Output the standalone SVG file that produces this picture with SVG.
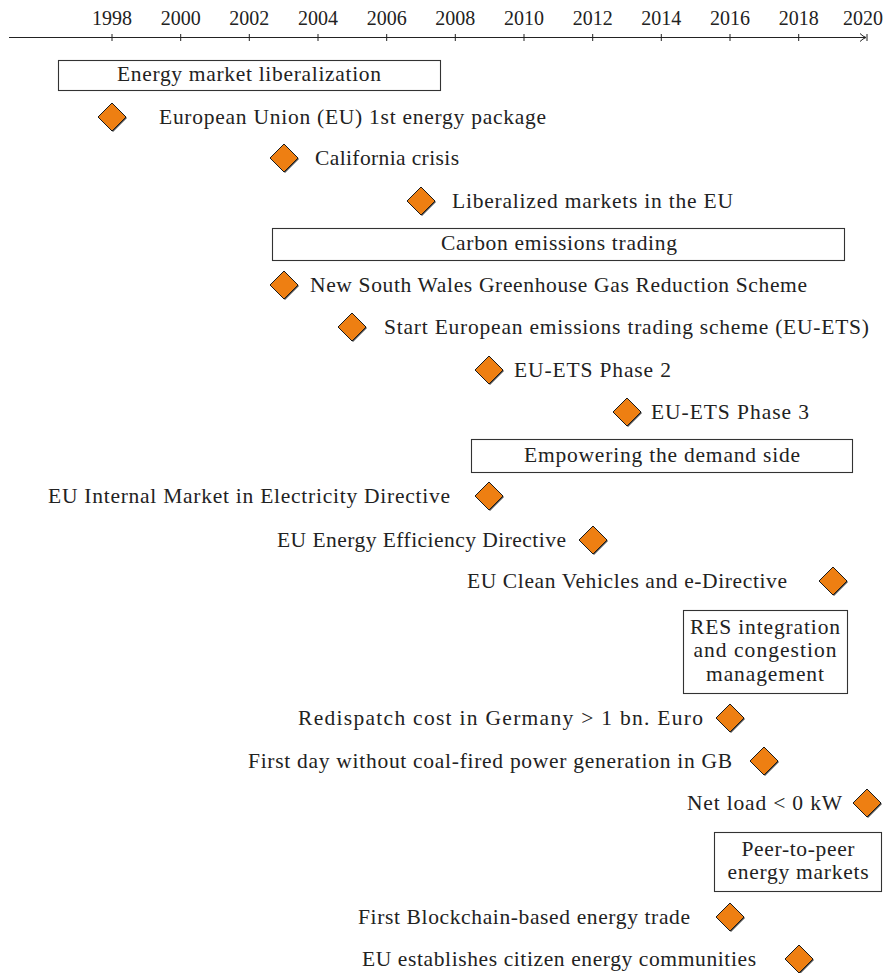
<svg xmlns="http://www.w3.org/2000/svg" width="893" height="973" viewBox="0 0 893 973">
<style>
text{font-family:"Liberation Serif","Times New Roman",serif;font-size:21.5px;fill:#222}
.yr{text-anchor:middle;font-size:20px}
.mid{text-anchor:middle}
.box{fill:#fff;stroke:#333;stroke-width:1.1}
.tick{stroke:#222;stroke-width:1}
.dia{fill:#EE7F12;stroke:#1a1a1a;stroke-width:1}
.sh{fill:#555}
</style>
<defs>
<g id="d">
<path class="sh" d="M1,-13 L15,1 L1,15 L-13,1 Z"/>
<path class="dia" d="M0,-14 L14,0 L0,14 L-14,0 Z"/>
</g>
</defs>
<g id="connectors">
<line x1="9" y1="37.5" x2="865" y2="37.5" stroke="#222" stroke-width="1"/>
<path d="M860,33.5 Q863,36.5 866,37.5 Q863,38.5 860,41.5" fill="none" stroke="#222" stroke-width="1"/>
<g class="tick">
<line x1="112" y1="34" x2="112" y2="41"/>
<line x1="180.7" y1="34" x2="180.7" y2="41"/>
<line x1="249.3" y1="34" x2="249.3" y2="41"/>
<line x1="318" y1="34" x2="318" y2="41"/>
<line x1="386.7" y1="34" x2="386.7" y2="41"/>
<line x1="455.3" y1="34" x2="455.3" y2="41"/>
<line x1="524" y1="34" x2="524" y2="41"/>
<line x1="592.7" y1="34" x2="592.7" y2="41"/>
<line x1="661.3" y1="34" x2="661.3" y2="41"/>
<line x1="730" y1="34" x2="730" y2="41"/>
<line x1="798.7" y1="34" x2="798.7" y2="41"/>
<line x1="867" y1="34" x2="867" y2="41"/>
</g>
</g>
<g id="years">
<text class="yr" x="112" y="25">1998</text>
<text class="yr" x="180.7" y="25">2000</text>
<text class="yr" x="249.3" y="25">2002</text>
<text class="yr" x="318" y="25">2004</text>
<text class="yr" x="386.7" y="25">2006</text>
<text class="yr" x="455.3" y="25">2008</text>
<text class="yr" x="524" y="25">2010</text>
<text class="yr" x="592.7" y="25">2012</text>
<text class="yr" x="661.3" y="25">2014</text>
<text class="yr" x="730" y="25">2016</text>
<text class="yr" x="798.7" y="25">2018</text>
<text class="yr" x="863" y="25">2020</text>
</g>
<g id="phase-liberalization">
<rect class="box" x="58.5" y="60.5" width="382" height="30"/>
<text class="mid" x="249" y="81" textLength="264" lengthAdjust="spacing">Energy market liberalization</text>
</g>
<g id="ev-eu1st">
<use href="#d" x="112" y="117"/>
<text x="159" y="124" textLength="387" lengthAdjust="spacing">European Union (EU) 1st energy package</text>
</g>
<g id="ev-california">
<use href="#d" x="284" y="158"/>
<text x="315" y="165" textLength="144" lengthAdjust="spacing">California crisis</text>
</g>
<g id="ev-liberalized">
<use href="#d" x="421" y="201"/>
<text x="452" y="208" textLength="281" lengthAdjust="spacing">Liberalized markets in the EU</text>
</g>
<g id="phase-carbon">
<rect class="box" x="272.5" y="228.5" width="572" height="32"/>
<text class="mid" x="559" y="250" textLength="236" lengthAdjust="spacing">Carbon emissions trading</text>
</g>
<g id="ev-nsw">
<use href="#d" x="284" y="285"/>
<text x="310" y="292" textLength="497" lengthAdjust="spacing">New South Wales Greenhouse Gas Reduction Scheme</text>
</g>
<g id="ev-euets">
<use href="#d" x="352" y="327"/>
<text x="384" y="334" textLength="485" lengthAdjust="spacing">Start European emissions trading scheme (EU-ETS)</text>
</g>
<g id="ev-phase2">
<use href="#d" x="489" y="370"/>
<text x="514" y="377" textLength="157" lengthAdjust="spacing">EU-ETS Phase 2</text>
</g>
<g id="ev-phase3">
<use href="#d" x="627" y="412"/>
<text x="651" y="419" textLength="158" lengthAdjust="spacing">EU-ETS Phase 3</text>
</g>
<g id="phase-demand">
<rect class="box" x="471.5" y="439.5" width="381" height="33"/>
<text class="mid" x="662" y="462" textLength="276" lengthAdjust="spacing">Empowering the demand side</text>
</g>
<g id="ev-internal">
<use href="#d" x="489" y="496"/>
<text x="48" y="503" textLength="402" lengthAdjust="spacing">EU Internal Market in Electricity Directive</text>
</g>
<g id="ev-efficiency">
<use href="#d" x="593" y="540"/>
<text x="277" y="547" textLength="289" lengthAdjust="spacing">EU Energy Efficiency Directive</text>
</g>
<g id="ev-clean">
<use href="#d" x="833" y="581"/>
<text x="467" y="588" textLength="320" lengthAdjust="spacing">EU Clean Vehicles and e-Directive</text>
</g>
<g id="phase-res">
<rect class="box" x="683.5" y="610.5" width="164" height="83"/>
<text class="mid" x="765" y="634" textLength="150" lengthAdjust="spacing">RES integration</text>
<text class="mid" x="765" y="657" textLength="143" lengthAdjust="spacing">and congestion</text>
<text class="mid" x="765" y="681" textLength="118" lengthAdjust="spacing">management</text>
</g>
<g id="ev-redispatch">
<use href="#d" x="730" y="718"/>
<text x="298" y="725" textLength="405" lengthAdjust="spacing">Redispatch cost in Germany &gt; 1 bn. Euro</text>
</g>
<g id="ev-coal">
<use href="#d" x="764" y="761"/>
<text x="248" y="768" textLength="484" lengthAdjust="spacing">First day without coal-fired power generation in GB</text>
</g>
<g id="ev-netload">
<use href="#d" x="867" y="803"/>
<text x="687" y="810" textLength="155" lengthAdjust="spacing">Net load &lt; 0 kW</text>
</g>
<g id="phase-p2p">
<rect class="box" x="714.5" y="832.5" width="167" height="59"/>
<text class="mid" x="798" y="856" textLength="113" lengthAdjust="spacing">Peer-to-peer</text>
<text class="mid" x="798" y="879" textLength="141" lengthAdjust="spacing">energy markets</text>
</g>
<g id="ev-blockchain">
<use href="#d" x="730" y="917"/>
<text x="358" y="924" textLength="332" lengthAdjust="spacing">First Blockchain-based energy trade</text>
</g>
<g id="ev-citizen">
<use href="#d" x="799" y="959"/>
<text x="362" y="966" textLength="394" lengthAdjust="spacing">EU establishes citizen energy communities</text>
</g>
</svg>
